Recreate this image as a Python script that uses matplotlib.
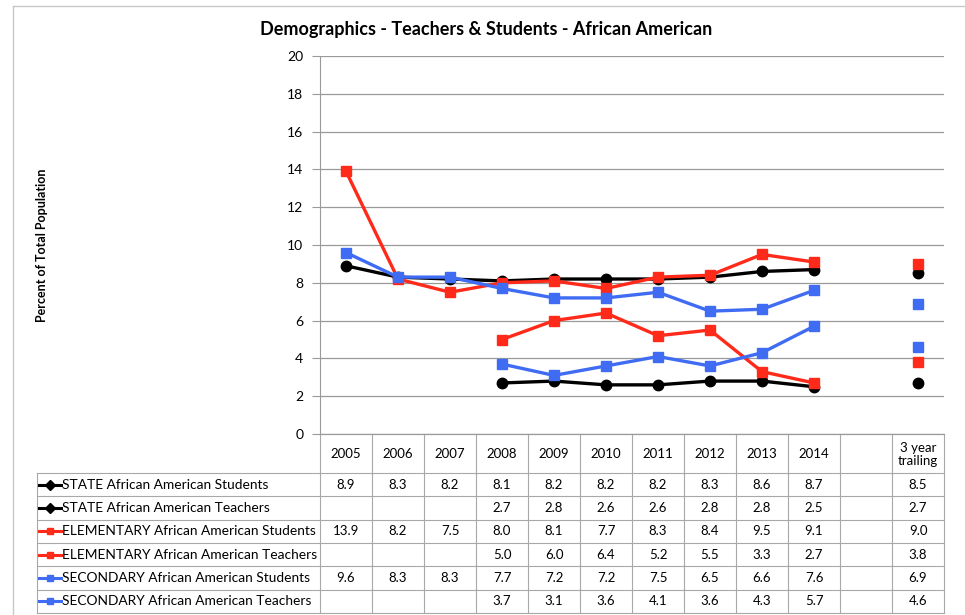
import matplotlib.pyplot as plt
import numpy as np

plt.rcParams['font.family'] = ['Lato', 'DejaVu Sans']

columns = ['2005', '2006', '2007', '2008', '2009', '2010', '2011', '2012', '2013', '2014', '', '3 year\ntrailing']
nan = np.nan
state_students = [8.9, 8.3, 8.2, 8.1, 8.2, 8.2, 8.2, 8.3, 8.6, 8.7, nan, 8.5]
state_teachers = [nan, nan, nan, 2.7, 2.8, 2.6, 2.6, 2.8, 2.8, 2.5, nan, 2.7]
elem_students = [13.9, 8.2, 7.5, 8.0, 8.1, 7.7, 8.3, 8.4, 9.5, 9.1, nan, 9.0]
elem_teachers = [nan, nan, nan, 5.0, 6.0, 6.4, 5.2, 5.5, 3.3, 2.7, nan, 3.8]
sec_students = [9.6, 8.3, 8.3, 7.7, 7.2, 7.2, 7.5, 6.5, 6.6, 7.6, nan, 6.9]
sec_teachers = [nan, nan, nan, 3.7, 3.1, 3.6, 4.1, 3.6, 4.3, 5.7, nan, 4.6]

series = [
    ('STATE African American Students', state_students, 'black', 'o'),
    ('STATE African American Teachers', state_teachers, 'black', 'o'),
    ('ELEMENTARY African American Students', elem_students, '#ff2a1a', 's'),
    ('ELEMENTARY African American Teachers', elem_teachers, '#ff2a1a', 's'),
    ('SECONDARY African American Students', sec_students, '#3f6cf2', 's'),
    ('SECONDARY African American Teachers', sec_teachers, '#3f6cf2', 's'),
]

W, H = 965, 615
fig = plt.figure(figsize=(W / 100, H / 100), dpi=100)

# overlay in pixel coordinates for the frame, titles and data table
ov = fig.add_axes([0, 0, 1, 1])
ov.set_xlim(0, W)
ov.set_ylim(H, 0)
ov.axis('off')

left, right, top, bottom = 320, 944, 56, 434
colw = (right - left) / len(columns)
grid_col = '#a8a8a8'

ov.plot([13, 13], [6, H], color='#c8c8c8', lw=1)
ov.plot([13, W], [6, 6], color='#c8c8c8', lw=1)

ov.text(486, 29, 'Demographics - Teachers & Students - African American',
        ha='center', va='center', fontsize=13, fontweight='bold')
ov.text(42, 245, 'Percent of Total Population', rotation=90,
        ha='center', va='center', fontsize=9, fontweight='bold')

# table
head_bot = 473
rowh = (613 - head_bot) / len(series)
tleft = 37
for i in range(len(columns) + 1):
    x = left + i * colw
    ov.plot([x, x], [bottom, 613], color=grid_col, lw=0.8)
ov.plot([tleft, tleft], [head_bot, 613], color=grid_col, lw=0.8)
for k in range(len(series) + 1):
    y = head_bot + k * rowh
    ov.plot([tleft, right], [y, y], color=grid_col, lw=0.8)
ov.plot([left, right], [bottom, bottom], color=grid_col, lw=0.8)

for i, c in enumerate(columns):
    ov.text(left + (i + 0.5) * colw, (bottom + head_bot) / 2 + 1, c,
            ha='center', va='center', fontsize=9.5, linespacing=1.1)

for k, (label, vals, color, marker) in enumerate(series):
    yc = head_bot + (k + 0.5) * rowh
    ov.plot([tleft + 2, tleft + 24], [yc, yc], color=color, lw=2.2)
    ov.plot([tleft + 13], [yc], marker='D' if marker == 'o' else 's',
            color=color, markersize=5)
    ov.text(tleft + 25, yc, label, ha='left', va='center', fontsize=9.9)
    for i, v in enumerate(vals):
        if not np.isnan(v):
            ov.text(left + (i + 0.5) * colw, yc, f'{v:.1f}',
                    ha='center', va='center', fontsize=9.5)

# chart
ax = fig.add_axes([left / W, 1 - bottom / H, (right - left) / W, (bottom - top) / H])
ax.patch.set_alpha(0)
x = np.arange(len(columns))
for label, vals, color, marker in series:
    ax.plot(x, vals, color=color, lw=2.4, marker=marker, markersize=7.5, zorder=3)

ax.set_xlim(-0.5, len(columns) - 0.5)
ax.set_ylim(0, 20)
ax.set_yticks(np.arange(0, 21, 2))
ax.set_xticks([])
ax.grid(axis='y', color='#9a9a9a', lw=0.9)
ax.set_axisbelow(True)
for s in ['top', 'right']:
    ax.spines[s].set_visible(False)
ax.spines['left'].set_color('#9a9a9a')
ax.spines['bottom'].set_color('#9a9a9a')
ax.tick_params(axis='y', length=6, color='#9a9a9a', labelsize=10, pad=6)

fig.savefig('out.png', dpi=100)
